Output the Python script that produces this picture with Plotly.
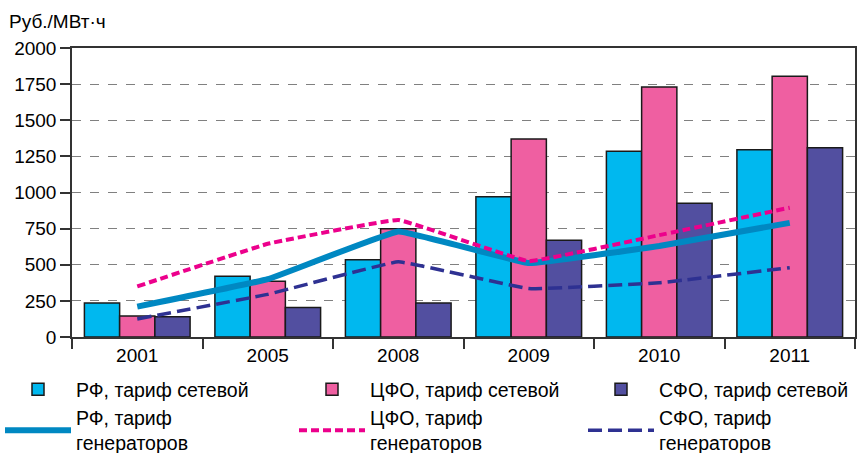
import plotly.graph_objects as go

years = ["2001", "2005", "2008", "2009", "2010", "2011"]

rf_grid = [235, 420, 535, 970, 1285, 1295]
cfo_grid = [145, 385, 750, 1370, 1730, 1805]
sfo_grid = [140, 205, 235, 670, 925, 1310]

rf_gen = [210, 400, 730, 512, 630, 790]
cfo_gen = [350, 645, 810, 525, 705, 895]
sfo_gen = [125, 295, 520, 335, 375, 480]

y_ticks = [0, 250, 500, 750, 1000, 1250, 1500, 1750, 2000]

FONT = "Liberation Sans, Arial, sans-serif"
FS = 19
bar_line = dict(color="#1a1a1a", width=1.5)

fig = go.Figure()
fig.add_trace(go.Bar(x=years, y=rf_grid, name="РФ, тариф сетевой", legend="legend",
                     marker=dict(color="#00b8ef", line=bar_line)))
fig.add_trace(go.Bar(x=years, y=cfo_grid, name="ЦФО, тариф сетевой", legend="legend2",
                     marker=dict(color="#ef5fa1", line=bar_line)))
fig.add_trace(go.Bar(x=years, y=sfo_grid, name="СФО, тариф сетевой", legend="legend3",
                     marker=dict(color="#524fa0", line=bar_line)))
fig.add_trace(go.Scatter(x=years, y=rf_gen, name="РФ, тариф<br>генераторов", mode="lines",
                         legend="legend",
                         line=dict(color="#0088c2", width=6, shape="spline", smoothing=0.2)))
fig.add_trace(go.Scatter(x=years, y=cfo_gen, name="ЦФО, тариф<br>генераторов", mode="lines",
                         legend="legend2",
                         line=dict(color="#ec008c", width=4, dash="8px,4px", shape="spline", smoothing=0.2)))
fig.add_trace(go.Scatter(x=years, y=sfo_gen, name="СФО, тариф<br>генераторов", mode="lines",
                         legend="legend3",
                         line=dict(color="#2e3192", width=3.5, dash="14px,6px", shape="spline", smoothing=0.2)))

def leg(xpx):
    return dict(orientation="v", x=xpx / 858, xref="container", xanchor="left",
                y=(453 - 370) / 453, yref="container", yanchor="top",
                traceorder="normal", itemwidth=66, tracegroupgap=0,
                font=dict(family=FONT, size=19.5, color="#000"),
                bgcolor="rgba(0,0,0,0)")

fig.update_layout(
    width=858, height=453,
    margin=dict(l=72, r=3, t=48, b=116, autoexpand=False),
    paper_bgcolor="white", plot_bgcolor="white",
    font=dict(family=FONT, size=FS, color="#000"),
    barmode="group", bargap=0.19, bargroupgap=0,
    showlegend=True,
    legend=leg(0), legend2=leg(294), legend3=leg(583),
    annotations=[dict(text="Руб./МВт·ч", xref="paper", yref="paper", x=-0.083, y=1.09,
                      xanchor="left", yanchor="middle", showarrow=False,
                      font=dict(family=FONT, size=19, color="#000"))],
)
fig.update_xaxes(type="category", showline=True, linecolor="#333", linewidth=1.5,
                 mirror=True, ticks="outside", tickson="boundaries", ticklen=10,
                 tickcolor="#333", tickwidth=1.5, showgrid=False,
                 tickfont=dict(family=FONT, size=FS, color="#000"))
fig.update_yaxes(range=[0, 2000], tickvals=y_ticks, showline=True, linecolor="#333",
                 linewidth=1.5, mirror=True, ticks="outside", ticklen=10, tickcolor="#333",
                 tickwidth=1.5, showgrid=True, gridcolor="#808080", griddash="dash",
                 gridwidth=1, zeroline=False,
                 tickfont=dict(family=FONT, size=FS, color="#000"))

fig.write_html("out.html")
